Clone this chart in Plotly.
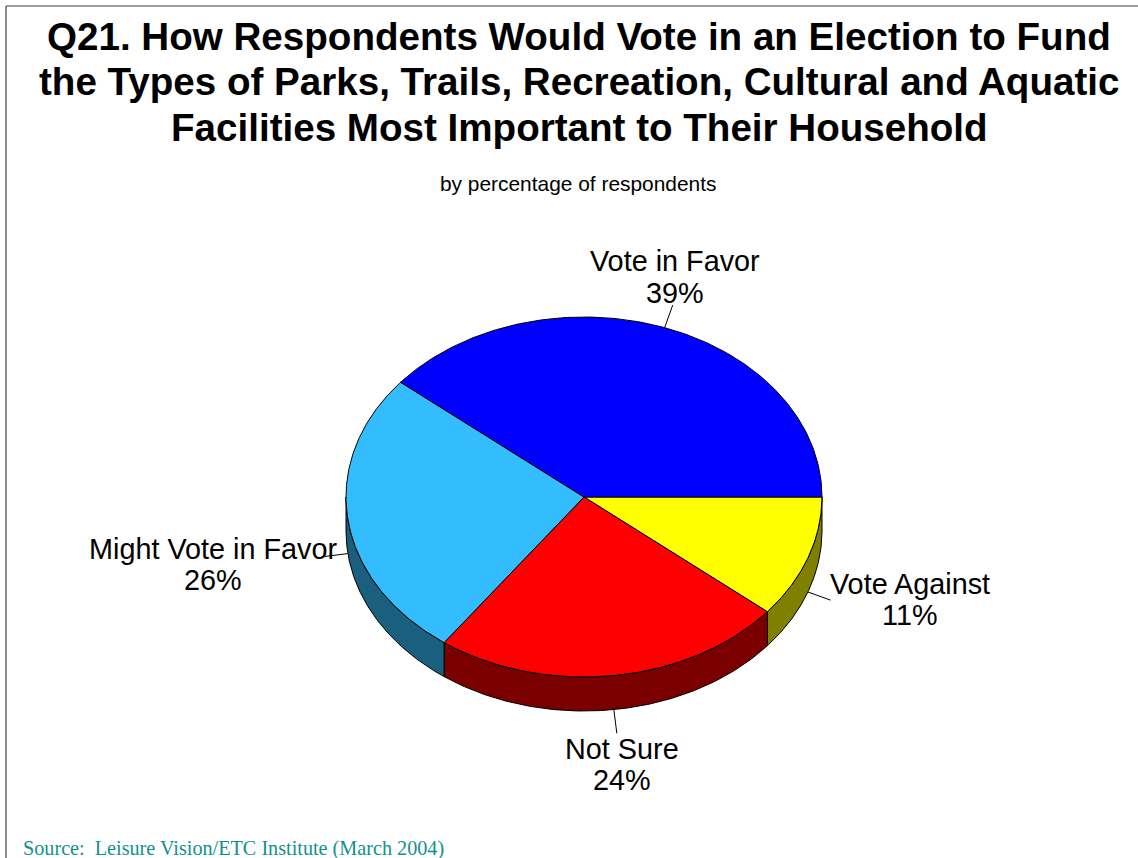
import numpy as np
import plotly.graph_objects as go

# ---- data -------------------------------------------------------------
categories = ["Vote Against", "Not Sure", "Might Vote in Favor", "Vote in Favor"]
percentages = [11, 24, 26, 39]

title_lines = [
    "Q21. How Respondents Would Vote in an Election to Fund",
    "the Types of Parks, Trails, Recreation, Cultural and Aquatic",
    "Facilities Most Important to Their Household",
]
subtitle = "by percentage of respondents"
source_note = "Source:  Leisure Vision/ETC Institute (March 2004)"

# ---- styling ------------------------------------------------------------
top_colors = ["#FFFF00", "#FF0000", "#33BDFF", "#0000FF"]
side_colors = ["#808000", "#7A0000", "#1A5F7E", "#00007F"]

W, H = 1138, 858
CX, CY = 584, 497          # centre of the pie's top face
RX, RY = 238, 180          # ellipse radii of the tilted disc
DEPTH = 34                 # thickness of the disc
LEADER = 24                # length of the label leader lines

# label centres (name line, value line) in pixel space
label_pos = {
    "Vote Against": (910, 584, 615),
    "Not Sure": (622, 749, 780),
    "Might Vote in Favor": (213, 549, 580),
    "Vote in Favor": (675, 261, 293),
}

FONT = "Arial, 'Liberation Sans', sans-serif"
LABEL_SIZE = 28.8


def ellipse(t_deg, dy=0.0):
    t = np.radians(t_deg)
    return CX + RX * np.cos(t), CY + RY * np.sin(t) + dy


# slice angles, clockwise from 3 o'clock
total = float(sum(percentages))
bounds = np.concatenate([[0.0], np.cumsum(percentages) / total * 360.0])

fig = go.Figure()

# side walls of the disc (only the front half is visible)
for i, cat in enumerate(categories):
    lo, hi = max(bounds[i], 0.0), min(bounds[i + 1], 180.0)
    if hi <= lo:
        continue
    ts = np.linspace(lo, hi, 120)
    xt, yt = ellipse(ts)
    xb, yb = ellipse(ts[::-1], DEPTH)
    xs = np.concatenate([xt, xb, xt[:1]])
    ys = np.concatenate([yt, yb, yt[:1]])
    fig.add_trace(go.Scatter(
        x=xs, y=ys, mode="lines", fill="toself",
        fillcolor=side_colors[i], line=dict(color="black", width=1),
        hoverinfo="skip", showlegend=False,
    ))

# top faces
for i, cat in enumerate(categories):
    ts = np.linspace(bounds[i], bounds[i + 1], 240)
    xa, ya = ellipse(ts)
    xs = np.concatenate([[CX], xa, [CX]])
    ys = np.concatenate([[CY], ya, [CY]])
    fig.add_trace(go.Scatter(
        x=xs, y=ys, mode="lines", fill="toself",
        fillcolor=top_colors[i], line=dict(color="black", width=1),
        hoverinfo="skip", showlegend=False, name=cat,
    ))

# leader lines and labels
annotations = []
for i, cat in enumerate(categories):
    mid = (bounds[i] + bounds[i + 1]) / 2.0
    front = 0.0 < mid < 180.0
    x0, y0 = ellipse(mid, DEPTH if front else 0.0)
    ux, uy = np.cos(np.radians(mid)), np.sin(np.radians(mid))
    x1, y1 = x0 + LEADER * ux, y0 + LEADER * uy
    fig.add_trace(go.Scatter(
        x=[x0, x1], y=[y0, y1], mode="lines",
        line=dict(color="black", width=1),
        hoverinfo="skip", showlegend=False,
    ))
    lx, ly1, ly2 = label_pos[cat]
    annotations.append(dict(x=lx, y=ly1, text=cat, showarrow=False,
                            xanchor="center", yanchor="middle",
                            font=dict(family=FONT, size=LABEL_SIZE, color="black")))
    annotations.append(dict(x=lx, y=ly2, text=f"{percentages[i]}%",
                            showarrow=False, xanchor="center", yanchor="middle",
                            font=dict(family=FONT, size=LABEL_SIZE, color="black")))

# title block
for k, line in enumerate(title_lines):
    annotations.append(dict(x=579, y=36 + k * 45.5, text=f"<b>{line}</b>",
                            showarrow=False, xanchor="center", yanchor="middle",
                            font=dict(family=FONT, size=38.6, color="black")))
annotations.append(dict(x=578, y=183, text=subtitle, showarrow=False,
                        xanchor="center", yanchor="middle",
                        font=dict(family=FONT, size=20.9, color="black")))
annotations.append(dict(x=21, y=848, text=source_note, showarrow=False,
                        xanchor="left", yanchor="middle",
                        font=dict(family="'Times New Roman', 'Liberation Serif', serif",
                                  size=20.2, color="#13908E")))
for a in annotations:
    a["xref"] = "x"
    a["yref"] = "y"

# slide frame (top and left edges)
shapes = [
    dict(type="line", xref="x", yref="y", x0=6, y0=6, x1=W, y1=6,
         line=dict(color="#404040", width=1.2)),
    dict(type="line", xref="x", yref="y", x0=6, y0=6, x1=6, y1=H,
         line=dict(color="#404040", width=1.2)),
]

fig.update_layout(
    width=W, height=H,
    margin=dict(l=0, r=0, t=0, b=0),
    paper_bgcolor="white", plot_bgcolor="white",
    xaxis=dict(range=[0, W], visible=False, fixedrange=True),
    yaxis=dict(range=[H, 0], visible=False, fixedrange=True),
    annotations=annotations,
    shapes=shapes,
    showlegend=False,
)

fig.write_html("out.html")
